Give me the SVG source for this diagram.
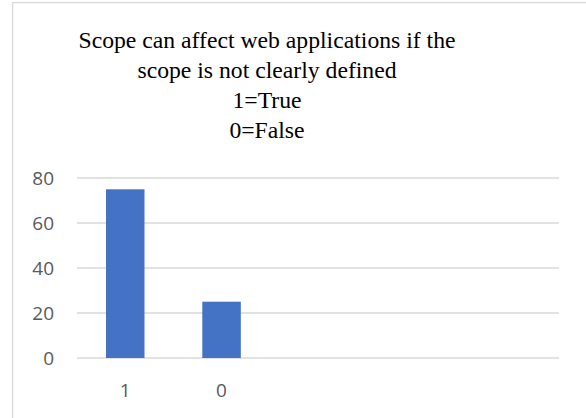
<svg xmlns="http://www.w3.org/2000/svg" width="586" height="418" viewBox="0 0 586 418">
  <defs>
    <style>
      .grid { stroke: #d9d9d9; stroke-width: 1.3; }
      .bar { fill: #4472c4; }
    </style>
  </defs>
  <rect width="586" height="418" fill="#fff"/>
  <!-- chart frame, clipped at right and bottom -->
  <rect x="12.6" y="2.6" width="600" height="430" fill="none" stroke="#d9d9d9" stroke-width="1.3"/>

  <g id="title" font-family="'Liberation Serif', 'Times New Roman', serif" font-size="23.7" fill="#000" text-anchor="middle">
    <text x="267" y="48">Scope can affect web applications if the</text>
    <text x="267" y="78">scope is not clearly defined</text>
    <text x="267" y="108">1=True</text>
    <text x="267" y="138">0=False</text>
  </g>

  <g id="gridlines">
    <line class="grid" x1="77" y1="178" x2="559" y2="178"/>
    <line class="grid" x1="77" y1="223" x2="559" y2="223"/>
    <line class="grid" x1="77" y1="268" x2="559" y2="268"/>
    <line class="grid" x1="77" y1="313" x2="559" y2="313"/>
    <line class="grid" x1="77" y1="358" x2="559" y2="358"/>
  </g>

  <g id="y-axis" font-family="'Open Sans', 'Liberation Sans', sans-serif" font-size="19" fill="#595959" text-anchor="end">
    <text x="54" y="184.5">80</text>
    <text x="54" y="229.5">60</text>
    <text x="54" y="274.5">40</text>
    <text x="54" y="319.5">20</text>
    <text x="54" y="364.5">0</text>
  </g>

  <g id="bars">
    <rect class="bar" x="106" y="189.3" width="38.5" height="168.7"/>
    <rect class="bar" x="202.3" y="301.7" width="38.5" height="56.3"/>
  </g>

  <g id="x-axis" font-family="'Open Sans', 'Liberation Sans', sans-serif" font-size="19" fill="#595959" text-anchor="middle">
    <text x="125.2" y="396.5">1</text>
    <text x="221.5" y="396.5">0</text>
  </g>
</svg>
